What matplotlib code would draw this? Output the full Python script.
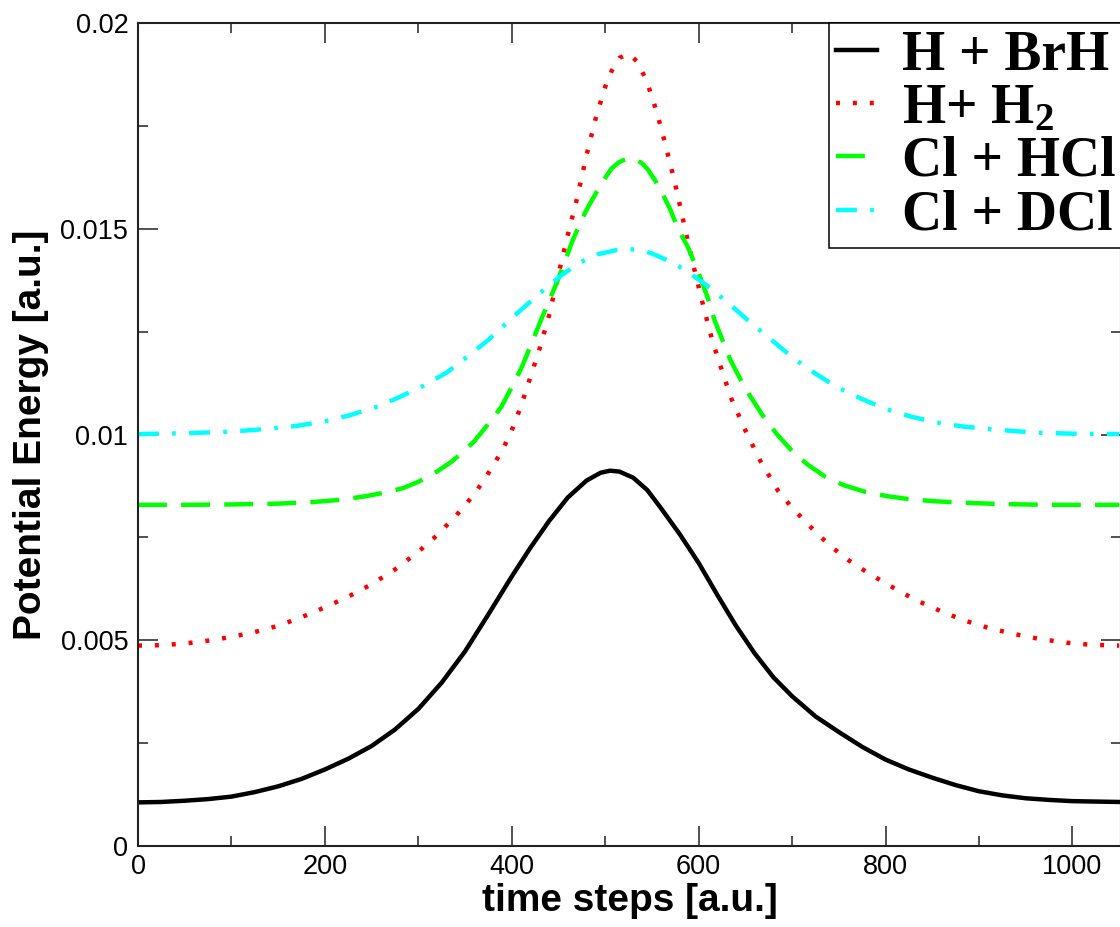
import matplotlib
matplotlib.use("Agg")
import matplotlib.pyplot as plt
from matplotlib.ticker import MultipleLocator

plt.rcParams['font.family'] = ['Liberation Sans', 'DejaVu Sans']
plt.rcParams['mathtext.fontset'] = 'custom'
plt.rcParams['mathtext.rm'] = 'Liberation Serif:bold'
plt.rcParams['mathtext.bf'] = 'Liberation Serif:bold'
plt.rcParams['mathtext.it'] = 'Liberation Serif:bold'

# ---- data ----
labels = ["H + BrH", r"H+ H$_\mathbf{2}$", "Cl + HCl", "Cl + DCl"]

x_brh = [0, 25, 50, 75, 100, 125, 150, 175, 200, 225, 250, 275, 300, 325, 350,
         375, 400, 420, 440, 460, 480, 495, 505, 515, 530, 545, 560, 580, 600,
         620, 640, 660, 680, 700, 725, 750, 775, 800, 825, 850, 875, 900, 925,
         950, 975, 1000, 1025, 1050]
y_brh = [0.00106, 0.00107, 0.00110, 0.00114, 0.00120, 0.00131, 0.00145, 0.00163,
         0.00186, 0.00212, 0.00243, 0.00283, 0.00333, 0.00397, 0.00473, 0.00563,
         0.00655, 0.00725, 0.00790, 0.00847, 0.00888, 0.00907, 0.00912, 0.00910,
         0.00895, 0.00865, 0.00820, 0.00757, 0.00688, 0.00610, 0.00535, 0.00468,
         0.00410, 0.00364, 0.00315, 0.00277, 0.00241, 0.00210, 0.00186, 0.00166,
         0.00148, 0.00133, 0.00123, 0.00116, 0.00112, 0.00109, 0.00108, 0.00107]

x_h2 = [0, 25, 50, 75, 100, 125, 150, 175, 200, 225, 250, 275, 300, 320, 340,
        360, 375, 390, 400, 410, 420, 430, 440, 450, 460, 470, 480, 490, 500,
        507, 515, 525, 535, 545, 555, 565, 575, 585, 595, 605, 615, 625, 635,
        650, 666, 685, 700, 720, 740, 760, 783, 805, 832, 860, 883, 910, 938,
        965, 994, 1020, 1050]
y_h2 = [0.00487, 0.00488, 0.00492, 0.00499, 0.00508, 0.00520, 0.00535, 0.00556,
        0.00580, 0.00606, 0.00636, 0.00672, 0.00715, 0.00755, 0.00802, 0.00855,
        0.00906, 0.00962, 0.01010, 0.01070, 0.01140, 0.01210, 0.01290, 0.01390,
        0.01485, 0.01575, 0.01679, 0.01770, 0.01845, 0.01884, 0.01915, 0.01925,
        0.01905, 0.01855, 0.01785, 0.01700, 0.01607, 0.01505, 0.01405, 0.01312,
        0.01225, 0.01155, 0.01087, 0.01010, 0.00936, 0.00863, 0.00822, 0.00775,
        0.00731, 0.00695, 0.00661, 0.00632, 0.00598, 0.00570, 0.00549, 0.00530,
        0.00515, 0.00503, 0.00494, 0.00489, 0.00487]

x_hcl = [0, 50, 100, 150, 188, 215, 241, 265, 284, 300, 320, 335, 348, 360, 370,
         380, 389, 400, 411, 420, 430, 440, 448, 456, 464, 472, 480, 491, 498,
         507, 515, 520, 527, 534, 540, 546, 554, 562, 570, 577, 589, 602, 610,
         617, 625, 634, 645, 655, 668, 684, 700, 716, 735, 755, 778, 802, 825,
         851, 885, 923, 975, 1050]
y_hcl = [0.00829, 0.00829, 0.00830, 0.00832, 0.00836, 0.00841, 0.00849, 0.00859,
         0.00870, 0.00885, 0.00910, 0.00933, 0.00958, 0.00984, 0.01012, 0.01040,
         0.01068, 0.01115, 0.01165, 0.01215, 0.01271, 0.01325, 0.01368, 0.01415,
         0.01465, 0.01508, 0.01546, 0.01590, 0.01617, 0.01647, 0.01662, 0.01667,
         0.01671, 0.01667, 0.01658, 0.01643, 0.01615, 0.01582, 0.01545, 0.01505,
         0.01453, 0.01380, 0.01330, 0.01278, 0.01232, 0.01181, 0.01133, 0.01094,
         0.01048, 0.01000, 0.00960, 0.00928, 0.00898, 0.00877, 0.00861, 0.00850,
         0.00843, 0.00838, 0.00834, 0.00831, 0.00829, 0.00829]

x_dcl = [0, 50, 100, 135, 170, 200, 227, 255, 280, 305, 330, 352, 375, 388, 401,
         420, 437, 455, 473, 492, 512, 528, 540, 551, 565, 580, 596, 613, 635,
         657, 680, 701, 725, 748, 775, 800, 828, 855, 884, 912, 940, 967, 1000,
         1050]
y_dcl = [0.01001, 0.01003, 0.01007, 0.01013, 0.01021, 0.01032, 0.01047, 0.01067,
         0.01091, 0.01118, 0.01150, 0.01188, 0.01230, 0.01257, 0.01285, 0.01323,
         0.01357, 0.01390, 0.01418, 0.01438, 0.01448, 0.01450, 0.01447, 0.01439,
         0.01425, 0.01407, 0.01383, 0.01355, 0.01313, 0.01269, 0.01226, 0.01186,
         0.01148, 0.01115, 0.01086, 0.01062, 0.01043, 0.01029, 0.01019, 0.01013,
         0.01008, 0.01004, 0.01002, 0.01001]

xticks = [0, 200, 400, 600, 800, 1000]
yticks = [0, 0.005, 0.01, 0.015, 0.02]
ytick_labels = ['0', '0.005', '0.01', '0.015', '0.02']

# ---- figure ----
W, H = 1120, 927
fig = plt.figure(figsize=(W / 100, H / 100), dpi=100)
ax_l, ax_r, ax_t, ax_b = 138, 1121, 23, 846
ax = fig.add_axes([ax_l / W, 1 - ax_b / H, (ax_r - ax_l) / W, (ax_b - ax_t) / H])

lw = 3.2
ax.plot(x_brh, y_brh, color='black', lw=lw, label=labels[0])
ax.plot(x_h2, y_h2, color='#ff0000', lw=lw, dashes=(0.9, 2.9), label=labels[1])
ax.plot(x_hcl, y_hcl, color='#00ff00', lw=lw, dashes=(6.5, 3.2), label=labels[2])
ax.plot(x_dcl, y_dcl, color='#00ffff', lw=lw, dashes=(4.7, 3.0, 0.8, 3.0), label=labels[3])

ax.set_xlim(0, 1052)
ax.set_ylim(0, 0.02)
ax.set_xticks(xticks)
ax.set_yticks(yticks)
ax.xaxis.set_minor_locator(MultipleLocator(100))
ax.yaxis.set_minor_locator(MultipleLocator(0.0025))
ax.set_yticklabels(ytick_labels)
ax.tick_params(which='both', direction='in', top=True, right=True, width=1.1,
               color='#222222')
ax.tick_params(which='major', length=14.5, labelsize=19.5)
ax.tick_params(axis='y', which='major', pad=7)
ax.tick_params(axis='x', which='major', pad=6)
ax.tick_params(which='minor', length=7.2)
for s in ax.spines.values():
    s.set_linewidth(1.5)
    s.set_color('#222222')

ax.set_xlabel('time steps [a.u.]', fontsize=28, fontweight='bold', labelpad=2)
ax.set_ylabel('Potential Energy [a.u.]', fontsize=28, fontweight='bold', labelpad=8)

leg = ax.legend(loc='upper left', bbox_to_anchor=(829 / W, 1 - 23 / H),
                bbox_transform=fig.transFigure, borderaxespad=0,
                prop={'family': 'Liberation Serif', 'weight': 'bold', 'size': 40},
                frameon=True, fancybox=False, shadow=False, framealpha=1,
                edgecolor='black', handlelength=0.75, handletextpad=0.45,
                borderpad=0.12, labelspacing=0.02)
leg.get_frame().set_linewidth(1.1)

fig.savefig('out.png', dpi=100)
